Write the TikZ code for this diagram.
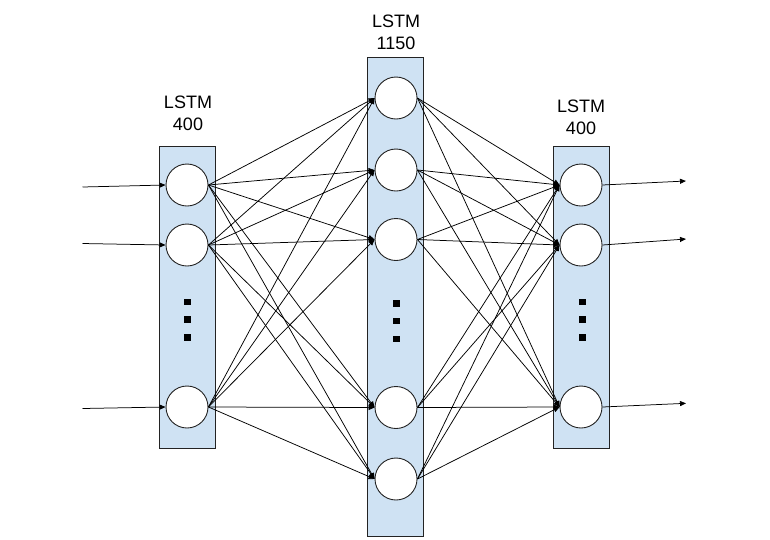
\documentclass[tikz,border=0pt]{standalone}
\usepackage{fontspec}
\setmainfont{Liberation Sans}
\usetikzlibrary{arrows.meta}
\definecolor{lstmfill}{RGB}{207,226,243}
\definecolor{lstmline}{RGB}{35,35,35}

\begin{document}
\begin{tikzpicture}[
  x=1pt, y=-1pt,
  font=\fontsize{18}{21.6}\selectfont,
  layer/.style={draw=lstmline, fill=lstmfill, line width=0.9pt, inner sep=0pt},
  unit/.style={circle, draw=lstmline, fill=white, line width=0.9pt,
               minimum size=42pt, inner sep=0pt},
  dot/.style={fill=black, minimum size=6.5pt, inner sep=0pt},
  flow/.style={-{Triangle[length=6pt,width=5pt]}, line width=0.75pt},
  title/.style={align=center, inner sep=0pt},
]
\useasboundingbox (0,0) rectangle (770,539);

% layers
\node[layer, minimum width=56pt, minimum height=301.6pt] (lbox) at (187.3,297.5) {};
\node[layer, minimum width=55.6pt, minimum height=479.4pt] (mbox) at (395.5,297) {};
\node[layer, minimum width=56pt, minimum height=301.6pt] (rbox) at (581.3,297.5) {};

\node[title] (ltitle) at (188,113.5) {LSTM\\400};
\node[title] (mtitle) at (396,32.5) {LSTM\\1150};
\node[title] (rtitle) at (581,117) {LSTM\\400};

% units
\foreach \i/\y in {1/185,2/245,3/407}
  \node[unit] (l\i) at (187,\y) {};
\foreach \i/\y in {1/98,2/170,3/239.5,4/407.5,5/479}
  \node[unit] (m\i) at (396,\y) {};
\foreach \i/\y in {1/185,2/245,3/407}
  \node[unit] (r\i) at (581,\y) {};

% ellipsis dots
\foreach \y [count=\k] in {302,319.3,337.3} {
  \node[dot] (ld\k) at (187.3,\y) {};
  \node[dot] (rd\k) at (582.3,\y) {};
}
\foreach \y [count=\k] in {303.3,321,339}
  \node[dot] (md\k) at (396.7,\y) {};

% fully connected
\foreach \a in {1,2,3}
  \foreach \b in {1,...,5}
    \draw[flow] (l\a.east) -- (m\b.west);
\foreach \a in {1,...,5}
  \foreach \b in {1,2,3}
    \draw[flow] (m\a.east) -- (r\b.west);

% inputs and outputs
\coordinate (in1) at (82.5,187);
\coordinate (in2) at (82.5,243.5);
\coordinate (in3) at (82.5,408.5);
\coordinate (out1) at (686,181);
\coordinate (out2) at (686,239);
\coordinate (out3) at (686,403.3);
\foreach \i in {1,2,3} {
  \draw[flow] (in\i) -- (l\i.west);
  \draw[flow] (r\i.east) -- (out\i);
}
\end{tikzpicture}
\end{document}
